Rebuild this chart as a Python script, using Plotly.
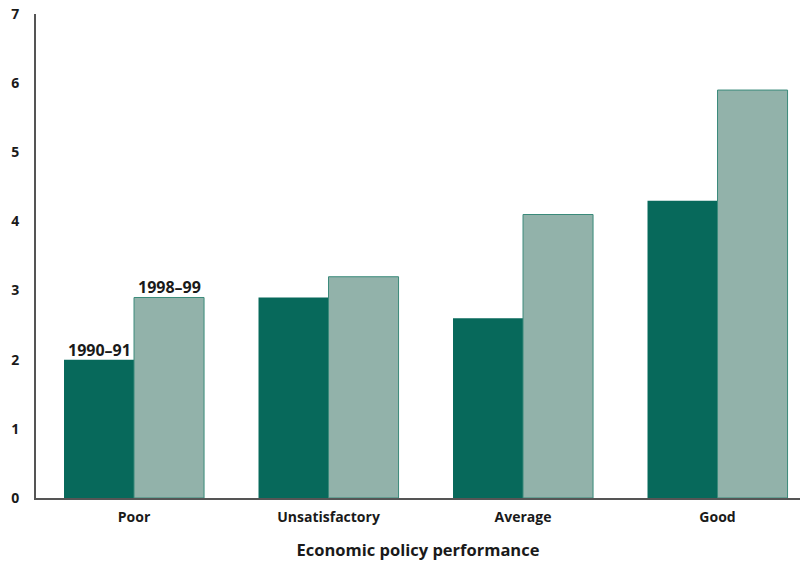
import plotly.graph_objects as go

categories = ["Poor", "Unsatisfactory", "Average", "Good"]
values_1990 = [2.0, 2.9, 2.6, 4.3]
values_1998 = [2.9, 3.2, 4.1, 5.9]
series_names = ["1990–91", "1998–99"]
y_ticks = [0, 1, 2, 3, 4, 5, 6, 7]

FONT = "Open Sans, Liberation Sans, Arial, sans-serif"
DARK = "#07695B"
LIGHT = "#92B2AA"

fig = go.Figure()
fig.add_trace(go.Bar(x=categories, y=values_1990, name=series_names[0],
                     marker=dict(color=DARK, line=dict(width=0))))
fig.add_trace(go.Bar(x=categories, y=values_1998, name=series_names[1],
                     marker=dict(color=LIGHT, line=dict(color="#3A8A7A", width=1))))

fig.add_annotation(x=0, xshift=-35, y=values_1990[0], text="<b>1990–91</b>",
                   showarrow=False, yanchor="bottom", yshift=-3,
                   font=dict(family=FONT, size=16, color="#1a1a1a"))
fig.add_annotation(x=0, xshift=35, y=values_1998[0], text="<b>1998–99</b>",
                   showarrow=False, yanchor="bottom", yshift=-3,
                   font=dict(family=FONT, size=16, color="#1a1a1a"))

fig.update_layout(
    width=801, height=561,
    margin=dict(l=36, r=1, t=14, b=63, autoexpand=False),
    paper_bgcolor="white", plot_bgcolor="white",
    barmode="group", bargap=0.28, bargroupgap=0,
    showlegend=False,
    font=dict(family=FONT, size=14, color="#1a1a1a"),
    xaxis=dict(
        range=[-0.504, 3.424], showline=True, linecolor="#555555", linewidth=2,
        ticks="", showgrid=False, zeroline=False, automargin=False,
        ticklabelstandoff=5,
        tickfont=dict(family=FONT, size=14, color="#1a1a1a", weight="bold"),
        title=dict(text="<b>Economic policy performance</b>",
                   font=dict(family=FONT, size=16.5, color="#1a1a1a"), standoff=20),
    ),
    yaxis=dict(
        range=[0, 7], tickvals=y_ticks, showline=True, linecolor="#555555", linewidth=2,
        ticks="", showgrid=False, zeroline=False, ticklabelstandoff=12, automargin=False,
        tickfont=dict(family=FONT, size=14, color="#1a1a1a", weight="bold"),
    ),
)

fig.write_html(
    "out.html",
    config={"displayModeBar": False},
    post_script="document.body.style.margin='0';document.body.style.overflow='hidden';",
)
